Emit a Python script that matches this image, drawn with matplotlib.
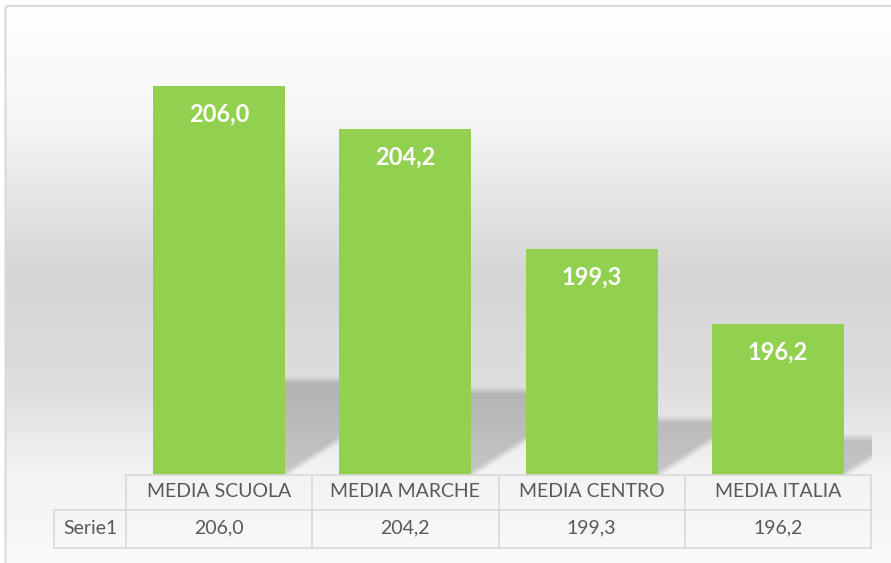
import numpy as np
import matplotlib
matplotlib.use("Agg")
import matplotlib.pyplot as plt
from matplotlib.patches import FancyBboxPatch

# data
categories = ["MEDIA SCUOLA", "MEDIA MARCHE", "MEDIA CENTRO", "MEDIA ITALIA"]
values = [206.0, 204.2, 199.3, 196.2]
series_name = "Serie1"
y_min, y_max = 190, 208

W, H = 891, 563
bar_green = "#92D050"
text_grey = "#595959"
line_grey = "#D9D9D9"
plt.rcParams["font.family"] = ["Lato", "DejaVu Sans"]


def fmt(v):
    return f"{v:.1f}".replace(".", ",")


fig = plt.figure(figsize=(W / 100, H / 100), dpi=100)

# background gradient of the chart area
bg = fig.add_axes([0, 0, 1, 1], zorder=0)
ys = np.arange(H)
stops_y = [0, 8, 120, 275, 390, 470, 563]
stops_g = [255, 255, 246, 213, 222, 243, 249]
grey = np.interp(ys, stops_y, stops_g) / 255.0
grad = np.repeat(grey[:, None], W, axis=1)
img = np.dstack([grad, grad, grad])
img[:5, :, :] = 1.0
img[:, :5, :] = 1.0
bg.imshow(img, extent=(0, W, H, 0), aspect="auto", interpolation="bilinear")
bg.set_xlim(0, W)
bg.set_ylim(H, 0)
bg.axis("off")
bg.add_patch(FancyBboxPatch((5.5, 6), W + 20, H + 20,
                            boxstyle="round,pad=0,rounding_size=4",
                            fill=False, ec=line_grey, lw=1.5))

# main plot area
x0, x1, yb, yt = 126, 871, 475, 37
ax = fig.add_axes([x0 / W, (H - yb) / H, (x1 - x0) / W, (yb - yt) / H], zorder=1)
ax.patch.set_visible(False)
n = len(categories)
xs = np.arange(n)
half = 0.355
ax.bar(xs, [v - y_min for v in values], bottom=y_min, width=2 * half,
       color=bar_green, zorder=3)
ax.set_xlim(-0.5, n - 0.5)
ax.set_ylim(y_min, y_max)
ax.axis("off")

# perspective shadow to the right of each bar
px_x = (x1 - x0) / n
px_y = (yb - yt) / (y_max - y_min)
for i, v in enumerate(values):
    br = i + half
    sx = np.linspace(br, br + 0.34, 80)
    top = y_min + 0.25 * (v - y_min) + 0.6
    sy = np.linspace(y_min, top, 120)
    X, Y = np.meshgrid(sx, sy)
    dx = (X - br) * px_x
    dy = (Y - y_min) * px_y
    h = 0.245 * (v - y_min) * px_y
    a1 = np.clip((h - dy) / 8 + 0.5, 0, 1)
    a2 = np.clip((dy - 0.65 * dx) / 8 + 0.5, 0, 1)
    alpha = 0.19 * a1 * a2
    rgba = np.zeros(X.shape + (4,))
    rgba[..., 3] = alpha
    ax.imshow(rgba, extent=(sx[0], sx[-1], sy[0], sy[-1]), origin="lower",
              aspect="auto", zorder=2, interpolation="bilinear")
ax.set_xlim(-0.5, n - 0.5)
ax.set_ylim(y_min, y_max)

for i, v in enumerate(values):
    ax.annotate(fmt(v), (i, v), xytext=(0, -20), textcoords="offset points",
                ha="center", va="center", color="white", fontsize=17,
                fontweight="bold", zorder=4)

# data table below the plot
tb = fig.add_axes([0, 0, 1, 1], zorder=2)
tb.patch.set_visible(False)
tb.set_xlim(0, W)
tb.set_ylim(H, 0)
tb.axis("off")
r0, r1, r2 = 475, 510, 548
lab_x = 54
edges = [x0 + k * px_x for k in range(n + 1)]
lk = dict(color=line_grey, lw=1.2)
tb.plot([x0, x1], [r0, r0], **lk)
tb.plot([lab_x, x1], [r1, r1], **lk)
tb.plot([lab_x, x1], [r2, r2], **lk)
for e in edges:
    tb.plot([e, e], [r0, r2], **lk)
tb.plot([lab_x, lab_x], [r1, r2], **lk)
for k, c in enumerate(categories):
    cx = (edges[k] + edges[k + 1]) / 2
    tb.text(cx, (r0 + r1) / 2 - 1, c, ha="center", va="center",
            fontsize=14, color=text_grey)
    tb.text(cx, (r1 + r2) / 2 - 1, fmt(values[k]), ha="center", va="center",
            fontsize=14, color=text_grey)
tb.text((lab_x + x0) / 2, (r1 + r2) / 2 - 1, series_name, ha="center",
        va="center", fontsize=14, color=text_grey)

fig.savefig("out.png", dpi=100)
